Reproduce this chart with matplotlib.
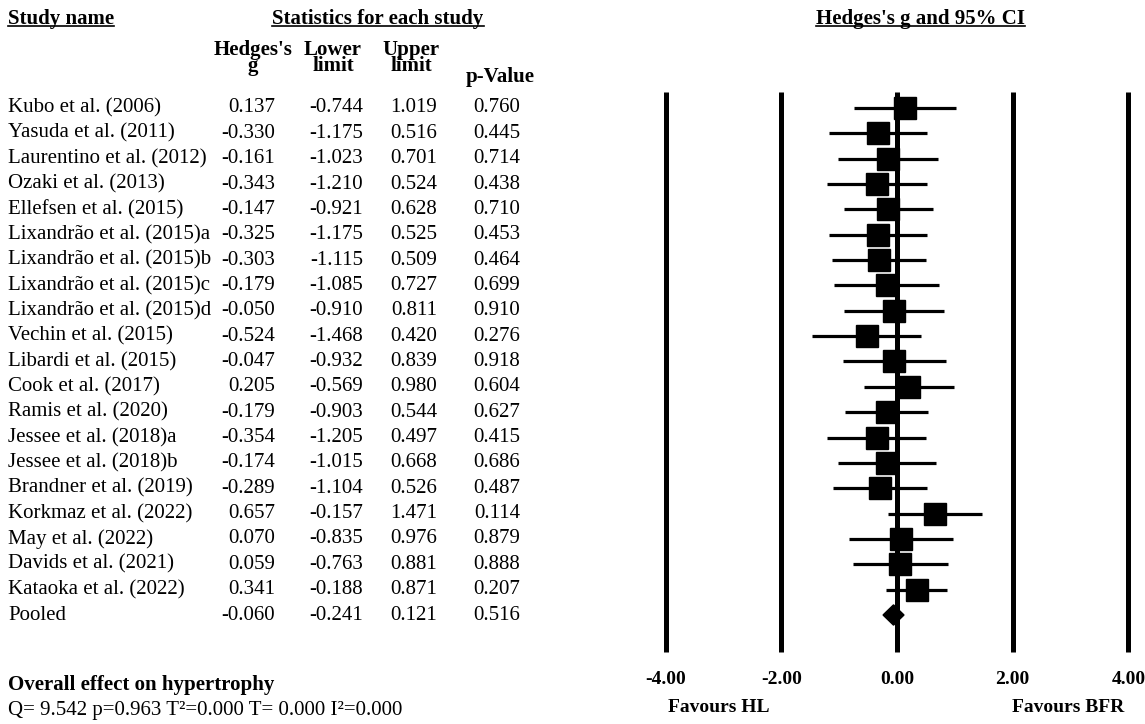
import matplotlib
matplotlib.use("Agg")
import matplotlib.pyplot as plt
from matplotlib.transforms import blended_transform_factory
import numpy as np

studies = ["Kubo et al. (2006)", "Yasuda et al. (2011)", "Laurentino et al. (2012)",
           "Ozaki et al. (2013)", "Ellefsen et al. (2015)", "Lixandrão et al. (2015)a",
           "Lixandrão et al. (2015)b", "Lixandrão et al. (2015)c", "Lixandrão et al. (2015)d",
           "Vechin et al. (2015)", "Libardi et al. (2015)", "Cook et al. (2017)",
           "Ramis et al. (2020)", "Jessee et al. (2018)a", "Jessee et al. (2018)b",
           "Brandner et al. (2019)", "Korkmaz et al. (2022)", "May et al. (2022)",
           "Davids et al. (2021)", "Kataoka et al. (2022)"]
hedges_g = [0.137, -0.330, -0.161, -0.343, -0.147, -0.325, -0.303, -0.179, -0.050, -0.524,
            -0.047, 0.205, -0.179, -0.354, -0.174, -0.289, 0.657, 0.070, 0.059, 0.341]
lower = [-0.744, -1.175, -1.023, -1.210, -0.921, -1.175, -1.115, -1.085, -0.910, -1.468,
         -0.932, -0.569, -0.903, -1.205, -1.015, -1.104, -0.157, -0.835, -0.763, -0.188]
upper = [1.019, 0.516, 0.701, 0.524, 0.628, 0.525, 0.509, 0.727, 0.811, 0.420,
         0.839, 0.980, 0.544, 0.497, 0.668, 0.526, 1.471, 0.976, 0.881, 0.871]
p_values = [0.760, 0.445, 0.714, 0.438, 0.710, 0.453, 0.464, 0.699, 0.910, 0.276,
            0.918, 0.604, 0.627, 0.415, 0.686, 0.487, 0.114, 0.879, 0.888, 0.207]
pooled = {"g": -0.060, "lower": -0.241, "upper": 0.121, "p": 0.516}
x_ticks = [-4, -2, 0, 2, 4]

W, H = 1145, 724
plt.rcParams["font.family"] = ["Liberation Serif", "DejaVu Serif"]
fig = plt.figure(figsize=(W / 100, H / 100), dpi=100)


def fx(x):
    return x / W


def fy(y):
    return 1 - y / H


# forest axes: row r sits at pixel y = 108 + 25.35 r
row0, step = 108, 25.35
top, bottom = 80, 660
left, right = 654, 1140
ax = fig.add_axes([fx(left), fy(bottom), (right - left) / W, (bottom - top) / H])
ax.set_xlim(-4.2, 4.2)
ax.set_ylim((bottom - row0) / step, (top - row0) / step)
for s in ax.spines.values():
    s.set_visible(False)
ax.set_yticks([])
ax.set_xticks(x_ticks)
ax.set_xticklabels([f"{t:.2f}" for t in x_ticks], fontsize=14, fontweight="bold")
ax.tick_params(axis="x", length=0, pad=8)

line_top = (92 - row0) / step
line_bot = (652 - row0) / step
ax.vlines(x_ticks, line_top, line_bot, color="black", lw=3.6, zorder=1)

rows = np.arange(len(studies))
ax.hlines(rows, lower, upper, color="black", lw=2.3, zorder=2)
ax.plot(hedges_g, rows, "s", color="black", ms=15.5, zorder=3)

pr = len(studies)
dh = 0.4
ax.fill([pooled["lower"], pooled["g"], pooled["upper"], pooled["g"]],
        [pr, pr - dh, pr, pr + dh], color="black", zorder=3)

fav_y = (708 - row0) / step
ax.text(-3.08, fav_y, "Favours HL", ha="center", va="center",
        fontsize=14, fontweight="bold")
ax.text(2.95, fav_y, "Favours BFR", ha="center", va="center",
        fontsize=14, fontweight="bold")

# table
tr = blended_transform_factory(fig.transFigure, ax.transData)
fs = 15
col_right = [275, 363, 437, 520]
for i, name in enumerate(studies):
    ax.text(fx(8), i, name, transform=tr, ha="left", va="center", fontsize=fs)
    vals = [hedges_g[i], lower[i], upper[i], p_values[i]]
    for x, v in zip(col_right, vals):
        ax.text(fx(x), i, f"{v:.3f}", transform=tr, ha="right", va="center", fontsize=fs)
ax.text(fx(8), pr, "Pooled", transform=tr, ha="left", va="center", fontsize=fs)
for x, v in zip(col_right, [pooled["g"], pooled["lower"], pooled["upper"], pooled["p"]]):
    ax.text(fx(x), pr, f"{v:.3f}", transform=tr, ha="right", va="center", fontsize=fs)

# headers
underlined = []
underlined.append(fig.text(fx(8), fy(19), "Study name", ha="left", va="center",
                           fontsize=fs, fontweight="bold"))
underlined.append(fig.text(fx(378), fy(19), "Statistics for each study", ha="center",
                           va="center", fontsize=fs, fontweight="bold"))
underlined.append(fig.text(fx(920), fy(19), "Hedges's g and 95% CI", ha="center",
                           va="center", fontsize=fs, fontweight="bold"))
for x, lab in [(253, "Hedges's\ng"), (333, "Lower\nlimit"), (411, "Upper\nlimit")]:
    fig.text(fx(x), fy(58), lab, ha="center", va="center", fontsize=fs,
             fontweight="bold", linespacing=0.75)
fig.text(fx(500), fy(77), "p-Value", ha="center", va="center", fontsize=fs, fontweight="bold")

fig.text(fx(8), fy(685), "Overall effect on hypertrophy", ha="left", va="center",
         fontsize=fs, fontweight="bold")
fig.text(fx(8), fy(710), "Q= 9.542 p=0.963 T²=0.000 T= 0.000 I²=0.000", ha="left",
         va="center", fontsize=fs)

fig.canvas.draw()
r = fig.canvas.get_renderer()
for t in underlined:
    bb = t.get_window_extent(r)
    y = bb.y0 + 3
    fig.add_artist(plt.Line2D([bb.x0 / W, bb.x1 / W], [y / H, y / H], color="black", lw=1.2))

fig.savefig("out.png", dpi=100)
